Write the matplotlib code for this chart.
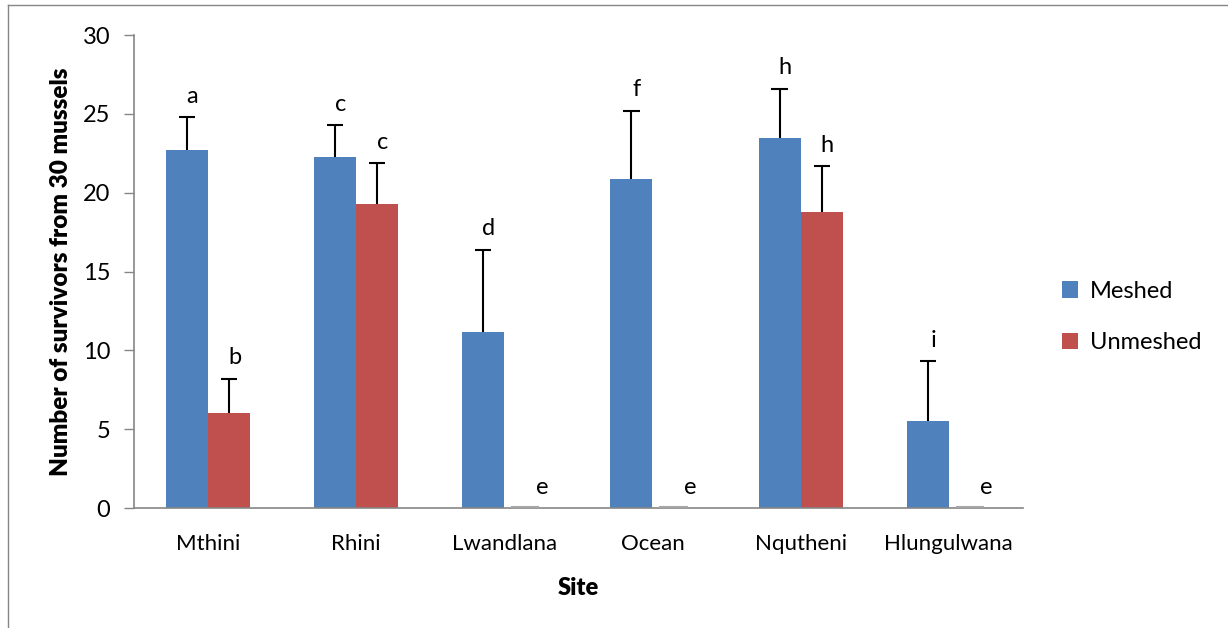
import numpy as np
import matplotlib.pyplot as plt
from matplotlib.lines import Line2D

# survivors per site (mean and upper error) for meshed and unmeshed mussels
sites = ['Mthini', 'Rhini', 'Lwandlana', 'Ocean', 'Nqutheni', 'Hlungulwana']
meshed = [22.7, 22.3, 11.2, 20.9, 23.5, 5.5]
meshed_err = [2.1, 2.0, 5.2, 4.3, 3.1, 3.8]
unmeshed = [6.0, 19.3, 0.0, 0.0, 18.8, 0.0]
unmeshed_err = [2.2, 2.6, 0.0, 0.0, 2.9, 0.0]
meshed_letters = ['a', 'c', 'd', 'f', 'h', 'i']
unmeshed_letters = ['b', 'c', 'e', 'e', 'h', 'e']

plt.rcParams['font.family'] = ['Lato', 'DejaVu Sans']

fig = plt.figure(figsize=(12.28, 6.28), dpi=100)
ax = fig.add_axes([0.109, 0.191, 0.724, 0.753])

x = np.arange(len(sites))
w = 0.284
blue = '#4F81BD'
red = '#C0504D'

ax.bar(x - w / 2, meshed, w, color=blue, label='Meshed', zorder=2)
ax.bar(x + w / 2, unmeshed, w, color=red, label='Unmeshed', zorder=2)

# zero-height bars still show as a thin grey stub on the axis
zero_x = [xi + w / 2 for xi, v in zip(x, unmeshed) if v == 0]
ax.hlines([0.05] * len(zero_x), [z - w / 3 for z in zero_x], [z + w / 3 for z in zero_x],
          colors='#A6A6A6', linewidth=1.5, zorder=4, clip_on=False)

# upper-only error bars: stem plus a single cap
cap = 0.055
for xs, vals, errs in [(x - w / 2, meshed, meshed_err), (x + w / 2, unmeshed, unmeshed_err)]:
    for xi, v, e in zip(xs, vals, errs):
        if e > 0:
            ax.vlines(xi, v, v + e, colors='black', linewidth=1.5, zorder=3)
            ax.hlines(v + e, xi - cap, xi + cap, colors='black', linewidth=1.5, zorder=3)

# significance letters above each bar
for xs, vals, errs, letters in [(x - w / 2, meshed, meshed_err, meshed_letters),
                                (x + w / 2, unmeshed, unmeshed_err, unmeshed_letters)]:
    for xi, v, e, lab in zip(xs, vals, errs, letters):
        dx = 12 if e == 0 else 4
        ax.annotate(lab, (xi, v + e), xytext=(dx, 15), textcoords='offset points',
                    ha='center', va='center', fontsize=17)

ax.set_xlim(-0.5, len(sites) - 0.5)
ax.set_ylim(0, 30)
ax.set_yticks(range(0, 31, 5))
ax.set_xticks(x)
ax.set_xticklabels(sites)
ax.tick_params(axis='y', direction='out', length=7, width=1, color='#868686',
               labelsize=17, pad=10)
ax.tick_params(axis='x', length=0, labelsize=16, pad=19)

for side in ['top', 'right']:
    ax.spines[side].set_visible(False)
for side in ['left', 'bottom']:
    ax.spines[side].set_color('#868686')
    ax.spines[side].set_linewidth(1.2)

ax.set_xlabel('Site', fontsize=17, fontweight='heavy', labelpad=16)
ax.set_ylabel('Number of survivors from 30 mussels', fontsize=17.5,
              fontweight='heavy', labelpad=8)

ax.legend(loc='center left', bbox_to_anchor=(1.02, 0.404), frameon=False,
          fontsize=17, handlelength=0.7, handleheight=0.7, labelspacing=1.3,
          handletextpad=0.5)

# chart-area border on the left and top
fig.add_artist(Line2D([8 / 1228, 8 / 1228], [0, 1 - 5 / 628], transform=fig.transFigure,
                      color='#868686', linewidth=1))
fig.add_artist(Line2D([8 / 1228, 1], [1 - 5 / 628, 1 - 5 / 628], transform=fig.transFigure,
                      color='#868686', linewidth=1))

fig.savefig('out.png', dpi=100)
